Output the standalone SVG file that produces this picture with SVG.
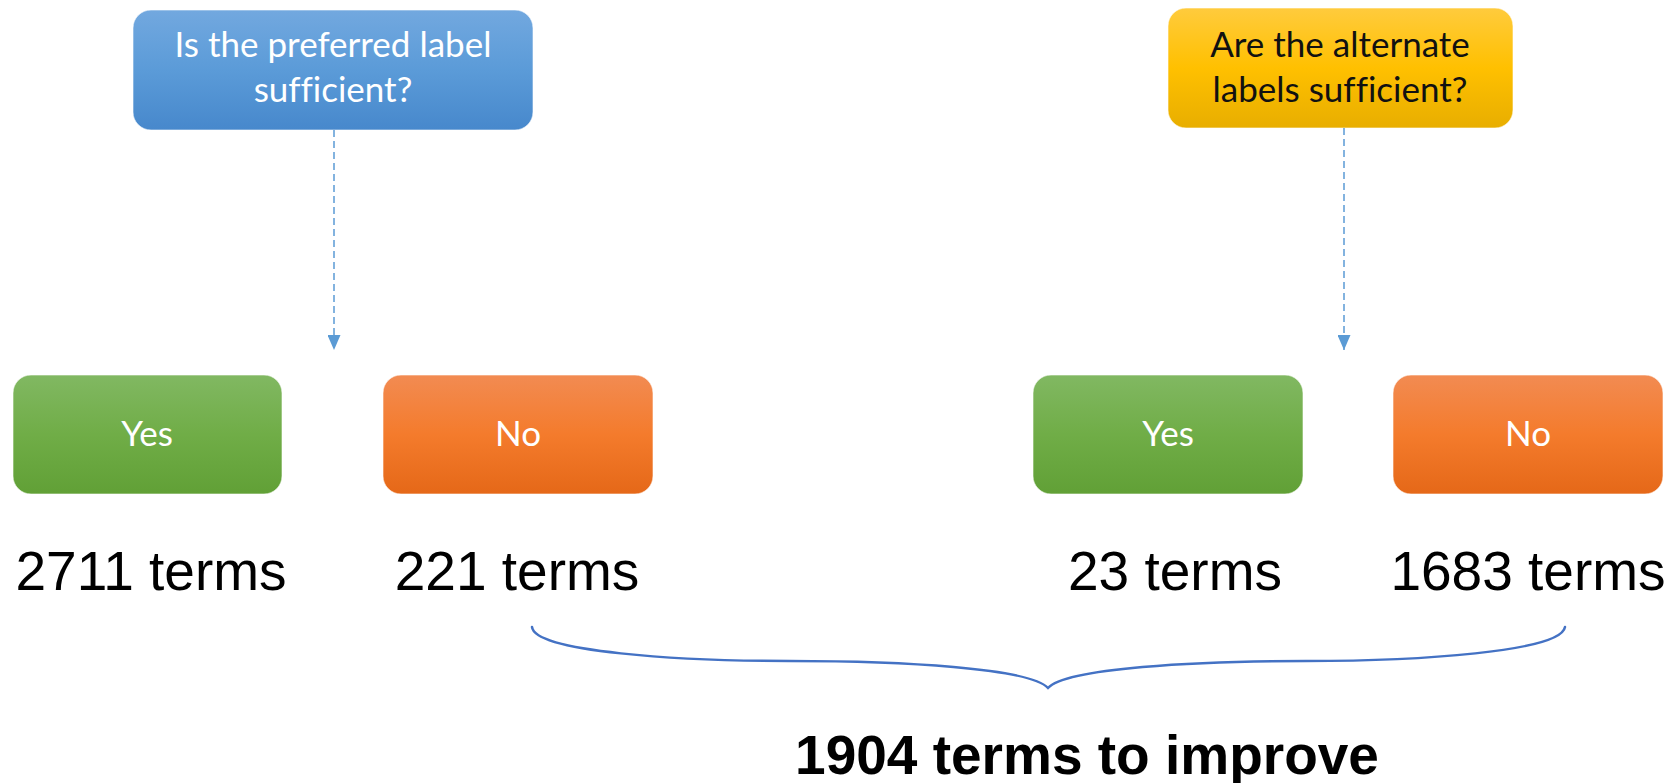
<svg xmlns="http://www.w3.org/2000/svg" width="1673" height="783" viewBox="0 0 1673 783">
<defs>
<linearGradient id="gBlue" x1="0" y1="0" x2="0" y2="1">
<stop offset="0" stop-color="#72A8DF"/><stop offset="0.5" stop-color="#5B9BD8"/><stop offset="1" stop-color="#4788CC"/>
</linearGradient>
<linearGradient id="gYellow" x1="0" y1="0" x2="0" y2="1">
<stop offset="0" stop-color="#FFCB3D"/><stop offset="0.5" stop-color="#FFC000"/><stop offset="1" stop-color="#E8AE00"/>
</linearGradient>
<linearGradient id="gGreen" x1="0" y1="0" x2="0" y2="1">
<stop offset="0" stop-color="#81B862"/><stop offset="0.5" stop-color="#70AD47"/><stop offset="1" stop-color="#61A036"/>
</linearGradient>
<linearGradient id="gOrange" x1="0" y1="0" x2="0" y2="1">
<stop offset="0" stop-color="#F28B52"/><stop offset="0.5" stop-color="#F47B2C"/><stop offset="1" stop-color="#E56818"/>
</linearGradient>
<marker id="arr" viewBox="0 0 15 13" refX="15" refY="6.5" markerWidth="15" markerHeight="13" markerUnits="userSpaceOnUse" orient="auto">
<path d="M0,0 L15,6.5 L0,13 Z" fill="#5B9BD5"/>
</marker>
<style>
.box{stroke:#ffffff;stroke-opacity:0.6;stroke-width:1}
.bt{font-family:Lato,"Open Sans",sans-serif;font-size:35px;text-anchor:middle;fill:#ffffff;font-variant-ligatures:none}
.bty{fill:#111111}
.terms{font-family:"Liberation Sans",Arial,sans-serif;font-size:55px;text-anchor:middle;fill:#000000}
.total{font-family:"Liberation Sans",Arial,sans-serif;font-size:55px;font-weight:bold;text-anchor:middle;fill:#000000}
.dash{stroke:#5B9BD5;stroke-width:1.5;stroke-dasharray:7 4;fill:none}
.brace{stroke:#4472C4;stroke-width:2.5;fill:none;stroke-linecap:round}
</style>
</defs>
<rect width="1673" height="783" fill="#ffffff"/>
<g id="q1">
<rect class="box" x="133" y="10" width="400" height="120" rx="18" fill="url(#gBlue)"/>
<text class="bt" x="333" y="57">Is the preferred label</text>
<text class="bt" x="333" y="102">sufficient?</text>
</g>
<g id="q2">
<rect class="box" x="1168" y="8" width="345" height="120" rx="18" fill="url(#gYellow)"/>
<text class="bt bty" x="1340" y="57">Are the alternate</text>
<text class="bt bty" x="1340" y="102">labels sufficient?</text>
</g>
<g id="yes1">
<rect class="box" x="13" y="375" width="269" height="119" rx="18" fill="url(#gGreen)"/>
<text class="bt" x="147" y="446">Yes</text>
</g>
<g id="no1">
<rect class="box" x="383" y="375" width="270" height="119" rx="18" fill="url(#gOrange)"/>
<text class="bt" x="518" y="446">No</text>
</g>
<g id="yes2">
<rect class="box" x="1033" y="375" width="270" height="119" rx="18" fill="url(#gGreen)"/>
<text class="bt" x="1168" y="446">Yes</text>
</g>
<g id="no2">
<rect class="box" x="1393" y="375" width="270" height="119" rx="18" fill="url(#gOrange)"/>
<text class="bt" x="1528" y="446">No</text>
</g>
<g id="counts">
<text class="terms" x="151" y="590">2711 terms</text>
<text class="terms" x="517" y="590">221 terms</text>
<text class="terms" x="1175" y="590">23 terms</text>
<text class="terms" x="1528" y="590">1683 terms</text>
</g>
<g id="connectors">
<path class="dash" d="M334,130 L334,350" marker-end="url(#arr)"/>
<path class="dash" d="M1344,128 L1344,350" marker-end="url(#arr)"/>
<path class="brace" d="M532,627 C535,652 680,661 790,661 C900,661 1030,668 1048,688 C1066,668 1196,661 1306,661 C1416,661 1561,652 1565,627"/>
</g>
<g id="total">
<text class="total" x="1087" y="774">1904 terms to improve</text>
</g>
</svg>
